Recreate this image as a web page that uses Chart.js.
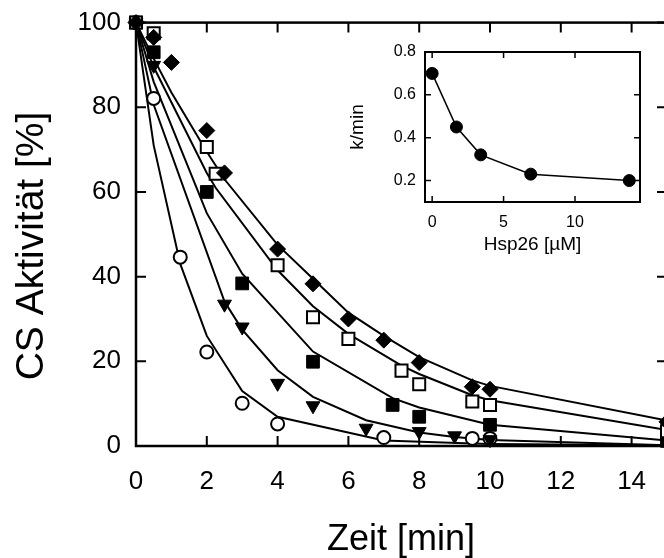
<!DOCTYPE html>
<html>
<head>
<meta charset="utf-8">
<script src="https://cdn.jsdelivr.net/npm/chart.js@4.4.0/dist/chart.umd.min.js"></script>
<style>
  html, body { margin: 0; padding: 0; background: #fff; }
  #wrap { position: relative; width: 664px; height: 558px; overflow: hidden; }
  #main { position: absolute; left: 0; top: 0; }
  #inset { position: absolute; left: 340px; top: 30px; }
</style>
</head>
<body>
<div id="wrap">
  <canvas id="main" width="680" height="558"></canvas>
  <canvas id="inset" width="320" height="240"></canvas>
</div>
<script>
// ============ Data: main panel (CS activity vs time) ============
const xTicks = [0, 2, 4, 6, 8, 10, 12, 14];
const yTicks = [0, 20, 40, 60, 80, 100];

// filled diamonds
const diaX = [0, 0.5, 1, 2, 2.5, 4, 5, 6, 7, 8, 9.5, 10, 15];
const diaY = [100, 96.5, 90.6, 74.5, 64.5, 46.5, 38.3, 30, 25, 19.7, 14, 13.4, 5.7];
const diaFitX = [0, 0.5, 1, 2, 2.5, 4, 5, 6, 7, 8, 9.5, 10, 15];
const diaFitY = [100, 91.5, 83.5, 69.5, 63, 47.5, 39.5, 31.5, 26, 21, 15.5, 14.2, 6];

// open squares
const osqX = [0, 0.5, 2, 2.25, 4, 5, 6, 7.5, 8, 9.5, 10, 15];
const osqY = [100, 97.5, 70.6, 64.3, 42.7, 30.4, 25.3, 17.8, 14.6, 10.5, 9.7, 3.5];
const osqFitX = [0, 0.5, 2, 2.25, 4, 5, 6, 7.5, 8, 9.5, 10, 15];
const osqFitY = [100, 89.5, 64.5, 61, 41.5, 33, 26.5, 19, 17, 12, 10.8, 3.8];

// filled squares
const fsqX = [0, 0.5, 2, 3, 5, 7.25, 8, 10, 15];
const fsqY = [100, 93, 60, 38.4, 19.9, 9.7, 6.9, 5.0, 1.2];
const fsqFitX = [0, 0.5, 2, 3, 5, 7.25, 8, 10, 15];
const fsqFitY = [100, 86, 55, 40.7, 22.3, 11.3, 9.1, 5, 1.3];

// filled triangles (down)
const triX = [0, 0.5, 2.5, 3, 4, 5, 6.5, 8, 9, 10];
const triY = [100, 89.9, 33.5, 28.1, 14.8, 9.5, 4.2, 3.4, 2.4, 1.5];
const triFitX = [0, 0.5, 2.5, 3, 4, 5, 6.5, 8, 9, 10, 15];
const triFitY = [100, 80.6, 34.1, 27.5, 17.9, 11.6, 6.1, 3.2, 2.1, 1.4, 0.2];

// open circles
const cirX = [0, 0.5, 1.25, 2, 3, 4, 7, 9.5, 10];
const cirY = [100, 82.1, 44.6, 22.2, 10.1, 5.2, 2.0, 1.8, 1.8];
const cirFitX = [0, 0.5, 1.25, 2, 3, 4, 7, 9.5, 10, 15];
const cirFitY = [100, 71, 43, 26, 13, 6.9, 1.3, 0.6, 0.5, 0.2];

// ============ Data: inset (rate constant vs Hsp26) ============
const insetXTicks = [0, 5, 10];
const insetYTicks = [0.2, 0.4, 0.6, 0.8];
const hsp26 = [0, 1.7, 3.4, 6.9, 13.8];
const kRate = [0.70, 0.45, 0.32, 0.23, 0.20];

Chart.defaults.font.family = '"Liberation Sans", Arial, Helvetica, sans-serif';
Chart.defaults.color = '#000';

const pts = (xs, ys) => xs.map((v, i) => ({ x: v, y: ys[i] }));

function markerSet(xs, ys, style, fill, radius, rotation) {
    return {
        data: pts(xs, ys),
        showLine: false,
        pointStyle: style,
        pointRadius: radius,
        pointBackgroundColor: fill,
        pointBorderColor: '#000',
        pointBorderWidth: fill === '#fff' ? 2 : 1,
        pointRotation: rotation || 0,
        clip: false,
        order: 0
    };
}

function fitSet(xs, ys, width) {
    return {
        data: pts(xs, ys),
        showLine: true,
        borderColor: '#000',
        borderWidth: width,
        pointRadius: 0,
        tension: 0,
        order: 1
    };
}

// frame + inward tick marks on all four sides
function frameTicks(xT, yT, len, width, frameWidth) {
    return {
        id: 'frameTicks',
        afterDraw(chart) {
            const { ctx, chartArea: a, scales: { x, y } } = chart;
            ctx.save();
            ctx.strokeStyle = '#000';
            ctx.lineWidth = width;
            ctx.beginPath();
            xT.forEach(v => {
                const px = x.getPixelForValue(v);
                ctx.moveTo(px, a.bottom); ctx.lineTo(px, a.bottom - len);
                ctx.moveTo(px, a.top); ctx.lineTo(px, a.top + len);
            });
            yT.forEach(v => {
                const py = y.getPixelForValue(v);
                ctx.moveTo(a.left, py); ctx.lineTo(a.left + len, py);
                ctx.moveTo(a.right, py); ctx.lineTo(a.right - len, py);
            });
            ctx.stroke();
            ctx.lineWidth = frameWidth;
            ctx.strokeRect(a.left, a.top, a.right - a.left, a.bottom - a.top);
            ctx.restore();
        }
    };
}

// axis titles of the main panel
const mainTitles = {
    id: 'mainTitles',
    afterDraw(chart) {
        const ctx = chart.ctx;
        ctx.save();
        ctx.fillStyle = '#000';
        ctx.textAlign = 'center';
        ctx.textBaseline = 'middle';
        ctx.font = '36px "Liberation Sans", Arial, sans-serif';
        ctx.fillText('Zeit [min]', 401, 540);
        ctx.font = '39px "Liberation Sans", Arial, sans-serif';
        ctx.translate(32, 246);
        ctx.rotate(-Math.PI / 2);
        ctx.fillText('CS Aktivität [%]', 0, 0);
        ctx.restore();
    }
};

new Chart(document.getElementById('main'), {
    type: 'scatter',
    data: {
        datasets: [
            fitSet(diaFitX, diaFitY, 2),
            fitSet(osqFitX, osqFitY, 2),
            fitSet(fsqFitX, fsqFitY, 2),
            fitSet(triFitX, triFitY, 2),
            fitSet(cirFitX, cirFitY, 2),
            markerSet(diaX, diaY, 'rectRot', '#000', 8),
            markerSet(osqX, osqY, 'rect', '#fff', 8.5),
            markerSet(fsqX, fsqY, 'rect', '#000', 9),
            markerSet(triX, triY, 'triangle', '#000', 8, 180),
            markerSet(cirX, cirY, 'circle', '#fff', 6.5)
        ]
    },
    options: {
        responsive: false,
        animation: false,
        devicePixelRatio: 1,
        events: [],
        layout: { padding: { top: 22, right: 13, left: 0, bottom: 0 } },
        plugins: { legend: { display: false }, tooltip: { enabled: false } },
        scales: {
            x: {
                type: 'linear', min: 0, max: 15,
                grid: { display: false }, border: { display: false },
                afterBuildTicks: s => { s.ticks = xTicks.map(v => ({ value: v })); },
                afterFit: s => { s.height = 112; },
                ticks: { padding: 12, font: { size: 26 }, maxRotation: 0 }
            },
            y: {
                type: 'linear', min: 0, max: 100,
                grid: { display: false }, border: { display: false },
                afterBuildTicks: s => { s.ticks = yTicks.map(v => ({ value: v })); },
                afterFit: s => { s.width = 136; },
                ticks: { padding: 7, font: { size: 26 } }
            }
        }
    },
    plugins: [frameTicks(xTicks, yTicks, 10, 2, 2.5), mainTitles]
});

new Chart(document.getElementById('inset'), {
    type: 'scatter',
    data: {
        datasets: [
            fitSet(hsp26, kRate, 1.5),
            markerSet(hsp26, kRate, 'circle', '#000', 6)
        ]
    },
    options: {
        responsive: false,
        animation: false,
        devicePixelRatio: 1,
        events: [],
        layout: { padding: { top: 22, right: 20, left: 0, bottom: 0 } },
        plugins: { legend: { display: false }, tooltip: { enabled: false } },
        scales: {
            x: {
                type: 'linear', min: -0.5, max: 14.55,
                grid: { display: false }, border: { display: false },
                afterBuildTicks: s => { s.ticks = insetXTicks.map(v => ({ value: v })); },
                afterFit: s => { s.height = 68; },
                ticks: { padding: 3, font: { size: 16 }, maxRotation: 0 },
                title: { display: true, text: 'Hsp26 [µM]', font: { size: 19 }, padding: { top: 0, bottom: 13.5 } }
            },
            y: {
                type: 'linear', min: 0.1, max: 0.8,
                grid: { display: false }, border: { display: false },
                afterBuildTicks: s => { s.ticks = insetYTicks.map(v => ({ value: v })); },
                afterFit: s => { s.width = 85; },
                ticks: { padding: 1, font: { size: 16 }, callback: v => v.toFixed(1) },
                title: { display: true, text: 'k/min', font: { size: 19 }, padding: { top: 6.5, bottom: 0 } }
            }
        }
    },
    plugins: [frameTicks(insetXTicks, insetYTicks, 6, 1.5, 2)]
});
</script>
</body>
</html>
